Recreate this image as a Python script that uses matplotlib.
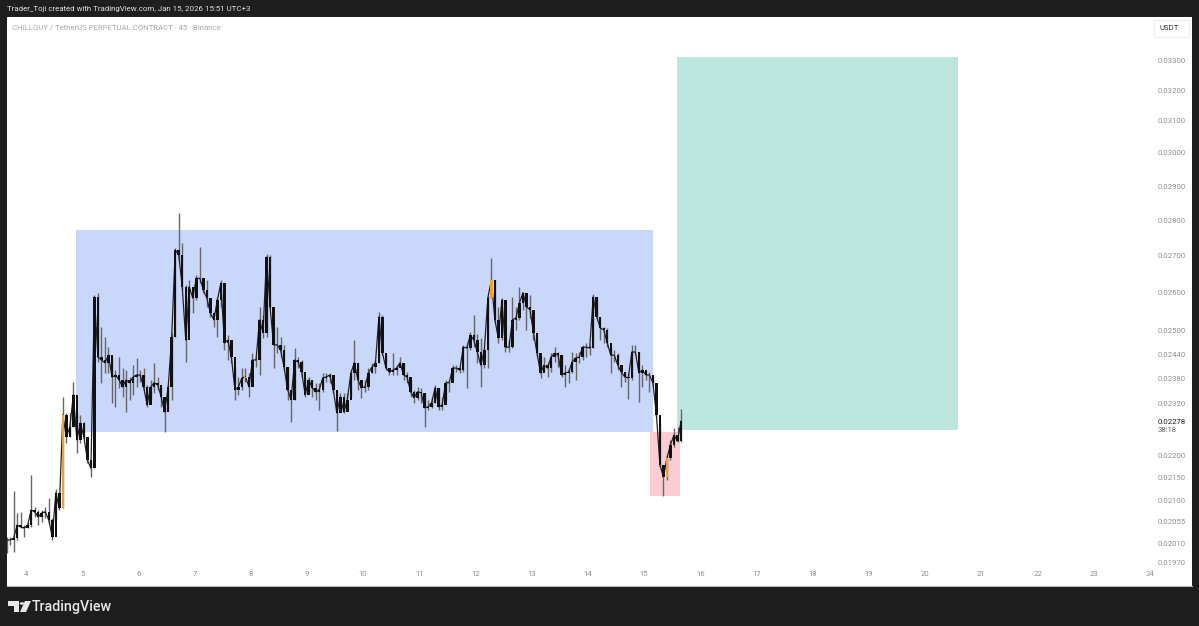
import matplotlib
matplotlib.use('Agg')
import matplotlib.pyplot as plt
import numpy as np
from matplotlib.patches import Polygon, Circle, Rectangle

# prices in units of 0.00001 USDT, one bar every 1/16 day
close_e5 = [
    2017, 2017, 2021, 2048, 2044, 2042, 2048, 2080, 2076, 2065,
    2074, 2076, 2059, 2023, 2117, 2084, 2293, 2242, 2265, 2341,
    2235, 2274, 2242, 2190, 2171, 2588, 2433, 2426, 2419, 2438,
    2384, 2389, 2377, 2360, 2377, 2370, 2384, 2389, 2389, 2360,
    2317, 2360, 2370, 2365, 2336, 2300, 2360, 2483, 2716, 2702,
    2615, 2476, 2615, 2585, 2638, 2638, 2607, 2585, 2546, 2528,
    2580, 2625, 2469, 2476, 2433, 2353, 2360, 2382, 2384, 2360,
    2426, 2426, 2528, 2495, 2696, 2562, 2464, 2464, 2451, 2408,
    2353, 2329, 2426, 2421, 2396, 2341, 2377, 2358, 2348, 2353,
    2382, 2384, 2389, 2353, 2298, 2336, 2300, 2329, 2394, 2419,
    2377, 2358, 2360, 2394, 2408, 2419, 2536, 2443, 2406, 2396,
    2401, 2406, 2419, 2389, 2384, 2348, 2334, 2348, 2346, 2310,
    2312, 2322, 2358, 2312, 2317, 2370, 2370, 2406, 2406, 2401,
    2458, 2456, 2489, 2476, 2446, 2413, 2451, 2585, 2633, 2528,
    2481, 2580, 2458, 2458, 2528, 2533, 2572, 2599, 2562, 2554,
    2495, 2443, 2394, 2413, 2406, 2433, 2443, 2438, 2389, 2394,
    2396, 2421, 2431, 2433, 2458, 2458, 2456, 2588, 2536, 2507,
    2502, 2469, 2438, 2438, 2413, 2396, 2384, 2382, 2446, 2446,
    2394, 2401, 2389, 2389, 2370, 2293, 2178, 2152, 2194, 2224,
    2246, 2232, 2278,
]
high_e5 = [
    2023, 2023, 2121, 2074, 2076, 2048, 2055, 2155, 2086, 2080,
    2080, 2086, 2106, 2063, 2125, 2117, 2336, 2298, 2298, 2372,
    2298, 2293, 2276, 2242, 2190, 2594, 2599, 2509, 2483, 2458,
    2433, 2401, 2433, 2406, 2401, 2384, 2413, 2431, 2401, 2406,
    2365, 2377, 2419, 2384, 2360, 2312, 2365, 2493, 2722, 2820,
    2736, 2620, 2633, 2599, 2646, 2724, 2638, 2633, 2585, 2549,
    2588, 2633, 2625, 2489, 2469, 2408, 2384, 2406, 2406, 2394,
    2443, 2433, 2562, 2541, 2705, 2702, 2509, 2509, 2483, 2464,
    2408, 2353, 2456, 2433, 2426, 2384, 2384, 2377, 2370, 2370,
    2394, 2394, 2394, 2389, 2353, 2346, 2346, 2346, 2401, 2476,
    2419, 2377, 2377, 2406, 2419, 2426, 2549, 2541, 2443, 2406,
    2443, 2413, 2433, 2419, 2396, 2377, 2353, 2360, 2358, 2346,
    2329, 2336, 2365, 2358, 2336, 2377, 2377, 2413, 2413, 2408,
    2464, 2469, 2497, 2541, 2491, 2481, 2456, 2590, 2693, 2633,
    2562, 2585, 2575, 2476, 2588, 2562, 2615, 2602, 2594, 2594,
    2554, 2483, 2433, 2433, 2421, 2443, 2458, 2446, 2438, 2413,
    2406, 2446, 2443, 2446, 2464, 2469, 2464, 2596, 2588, 2536,
    2509, 2507, 2458, 2451, 2443, 2413, 2396, 2394, 2464, 2464,
    2446, 2413, 2396, 2396, 2384, 2370, 2274, 2178, 2201, 2235,
    2262, 2265, 2307,
]
low_e5 = [
    1990, 2006, 1992, 2017, 2042, 2023, 2042, 2044, 2065, 2048,
    2055, 2063, 2053, 2017, 2059, 2080, 2084, 2228, 2242, 2265,
    2205, 2228, 2235, 2183, 2152, 2171, 2421, 2370, 2394, 2394,
    2322, 2312, 2358, 2336, 2300, 2329, 2341, 2360, 2372, 2353,
    2312, 2329, 2346, 2353, 2312, 2253, 2305, 2329, 2483, 2683,
    2607, 2421, 2546, 2546, 2580, 2625, 2599, 2562, 2536, 2509,
    2483, 2562, 2451, 2426, 2419, 2329, 2341, 2353, 2372, 2336,
    2377, 2408, 2389, 2481, 2483, 2559, 2406, 2443, 2433, 2401,
    2329, 2276, 2329, 2406, 2384, 2336, 2348, 2336, 2329, 2305,
    2348, 2372, 2370, 2346, 2255, 2300, 2298, 2312, 2336, 2377,
    2353, 2334, 2348, 2353, 2394, 2394, 2419, 2438, 2401, 2389,
    2389, 2389, 2411, 2377, 2370, 2336, 2322, 2329, 2322, 2265,
    2305, 2310, 2322, 2305, 2305, 2329, 2348, 2384, 2396, 2394,
    2396, 2358, 2451, 2458, 2419, 2360, 2406, 2406, 2585, 2520,
    2469, 2476, 2446, 2446, 2456, 2502, 2528, 2554, 2502, 2533,
    2476, 2433, 2382, 2396, 2384, 2396, 2421, 2408, 2384, 2360,
    2370, 2394, 2377, 2419, 2426, 2433, 2438, 2456, 2528, 2476,
    2469, 2458, 2394, 2421, 2401, 2360, 2372, 2331, 2377, 2438,
    2324, 2360, 2377, 2348, 2360, 2288, 2174, 2110, 2145, 2190,
    2219, 2230, 2230,
]
orange_bars = [16, 68, 138, 188]

day_ticks = [4, 5, 6, 7, 8, 9, 10, 11, 12, 13, 14, 15, 16, 17, 18, 19, 20, 21, 22, 23, 24]
price_ticks = [0.033, 0.032, 0.031, 0.03, 0.029, 0.028, 0.027, 0.026, 0.025, 0.0244,
               0.0238, 0.0232, 0.02278, 0.022, 0.0215, 0.021, 0.02055, 0.0201, 0.0197]

first_day = 3.655
bar_step = 1 / 16
last_price = 0.02278

range_box = (4.89, 15.157, 0.02254, 0.02772)
target_box = (15.583, 20.583, 0.02258, 0.0331)
stop_box = (15.103, 15.637, 0.0211, 0.02254)

DARK = '#1e1e1e'
TICK = '#8f8f8f'
W, H = 1199, 626
plt.rcParams['font.family'] = ['Roboto', 'DejaVu Sans']

close = np.array(close_e5) / 1e5
high = np.array(high_e5) / 1e5
low = np.array(low_e5) / 1e5
opens = np.r_[close[0], close[:-1]]
days = first_day + np.arange(len(close)) * bar_step

fig = plt.figure(figsize=(W / 100, H / 100), dpi=100, facecolor=DARK)
ax = fig.add_axes([7 / W, 40 / H, 1185 / W, 569 / H], facecolor='white')
ax.set_yscale('log')
ax.set_xlim(3.662, 24.747)
ax.set_ylim(0.01924, 0.03449)


def box(rng, color):
    ax.add_patch(Rectangle((rng[0], rng[2]), rng[1] - rng[0], rng[3] - rng[2],
                           facecolor=color, edgecolor='none', zorder=1))


box(range_box, '#c9d7fb')
box(target_box, '#bde6df')
box(stop_box, '#fbccd3')

colors = ['#f0a030' if i in orange_bars else '#111111' for i in range(len(close))]
ax.vlines(days, low, high, colors='#666666', linewidth=1.0, zorder=2)
ax.bar(days, np.abs(close - opens), bottom=np.minimum(close, opens), width=0.044,
       color=colors, linewidth=0, zorder=3)
ax.plot(days, close, color='#222222', linewidth=0.9, zorder=2.5)

for side in ['top', 'left', 'right']:
    ax.spines[side].set_visible(False)
ax.spines['bottom'].set_color('#b5b5b5')

ax.yaxis.tick_right()
ax.minorticks_off()
ax.set_yticks(price_ticks)
ax.set_yticklabels(['%.5f' % p for p in price_ticks])
ax.tick_params('y', which='both', length=0, direction='in', pad=-24.5, labelsize=5.6, labelcolor=TICK)
ax.set_xticks(day_ticks)
ax.set_xticklabels([str(d) for d in day_ticks])
ax.tick_params('x', length=0, direction='in', pad=-10.5, labelsize=5.6, labelcolor=TICK)
ax.get_yticklabels()[price_ticks.index(last_price)].set_color('#222222')
ax.annotate('38:18', (1, last_price), xycoords=('axes fraction', 'data'), xytext=(-24.5, -6.5),
            textcoords='offset points', fontsize=5.6, color='#666666', va='center', ha='left')

fig.text(7 / W, 1 - 9 / H, 'Trader_Toji created with TradingView.com, Jan 15, 2026 15:51 UTC+3',
         color='#e0e0e0', fontsize=5.7, va='center', ha='left')
fig.text(12 / W, 1 - 27.5 / H, 'CHILLGUY / TetherUS PERPETUAL CONTRACT · 45 · Binance',
         color='#a8a8a8', fontsize=5.55, va='center', ha='left')

# USDT box, top right
fig.patches.append(Rectangle((1154 / W, 1 - 37 / H), 35 / W, 17 / H, transform=fig.transFigure,
                             facecolor='white', edgecolor='#eeeeee', linewidth=0.8))
fig.text(1169 / W, 1 - 28.5 / H, 'USDT', color='#333333', fontsize=5.6, va='center', ha='center')

# logo
def poly(points):
    pts = [(x / W, 1 - y / H) for x, y in points]
    fig.patches.append(Polygon(pts, closed=True, transform=fig.transFigure, facecolor='#e8e8e8', edgecolor='none'))


poly([(8, 601), (19, 601), (19, 612), (14, 612), (14, 606), (8, 606)])
poly([(25, 601), (31, 601), (26, 612), (20, 612)])
fig.patches.append(Circle((22 / W, 1 - 603.5 / H), 2.4 / W, transform=fig.transFigure, facecolor='#e8e8e8', edgecolor='none'))
fig.text(32 / W, 1 - 606.5 / H, 'TradingView', color='#e8e8e8', fontsize=10.3, fontweight='medium',
         va='center', ha='left')

fig.savefig('out.png', dpi=100, facecolor=DARK)
